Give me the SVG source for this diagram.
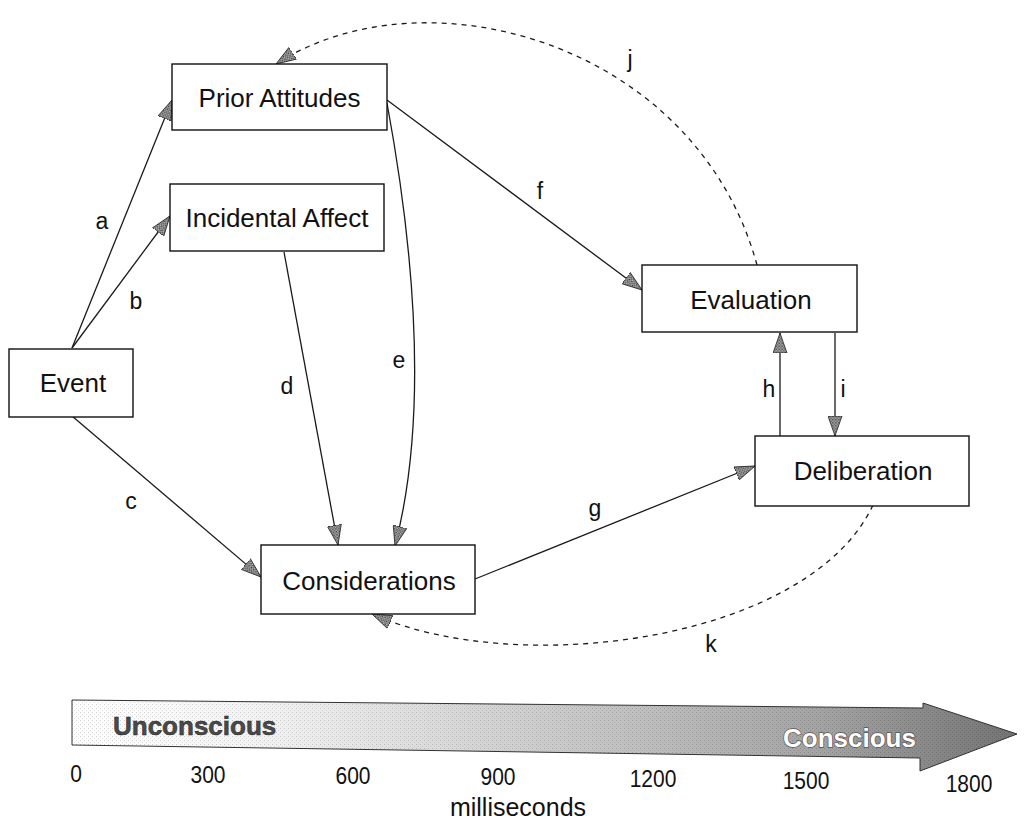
<svg xmlns="http://www.w3.org/2000/svg" width="1027" height="824" viewBox="0 0 1027 824">
<style>
.box{fill:#fff;stroke:#111;stroke-width:1.4}
.nt{font-family:"Liberation Sans",Arial,sans-serif;font-size:26px;fill:#111;text-anchor:middle}
.lb{font-family:"Liberation Sans",Arial,sans-serif;font-size:23px;fill:#111;text-anchor:middle}
.ln{fill:none;stroke:#1a1a1a;stroke-width:1.3;marker-end:url(#ah)}
.ds{fill:none;stroke:#1a1a1a;stroke-width:1.3;stroke-dasharray:5 5;marker-end:url(#ah)}
.tk{font-family:"Liberation Sans",Arial,sans-serif;font-size:21px;fill:#111;text-anchor:middle}
</style>
<defs>
<pattern id="hatch" width="3" height="3" patternUnits="userSpaceOnUse">
<rect width="3" height="3" fill="#c0c0c0"/>
<rect width="1.5" height="1.5" fill="#333"/>
<rect x="1.5" y="1.5" width="1.5" height="1.5" fill="#555"/>
</pattern>
<marker id="ah" viewBox="0 0 21 15" refX="20" refY="7.5" markerWidth="21" markerHeight="15" markerUnits="userSpaceOnUse" orient="auto">
<path d="M0,0.5 L20,7.5 L0,14.5 Z" fill="url(#hatch)" stroke="#222" stroke-width="0.8"/>
</marker>
<linearGradient id="tg" gradientUnits="userSpaceOnUse" x1="72" y1="0" x2="1018" y2="0">
<stop offset="0" stop-color="#ffffff"/>
<stop offset="0.2" stop-color="#f3f3f3"/>
<stop offset="0.4" stop-color="#d9d9d9"/>
<stop offset="0.6" stop-color="#bfbfbf"/>
<stop offset="0.8" stop-color="#a2a2a2"/>
<stop offset="1" stop-color="#737373"/>
</linearGradient>
<pattern id="stip" width="4" height="4" patternUnits="userSpaceOnUse">
<rect x="0" y="0" width="1" height="1" fill="#000" opacity="0.35"/>
<rect x="2" y="2" width="1" height="1" fill="#000" opacity="0.25"/>
</pattern>
</defs>
<rect width="1027" height="824" fill="#fff"/>

<g id="connectors">
<path id="a" class="ln" d="M72,348 L172,100"/>
<path id="b" class="ln" d="M72,348 L170,216"/>
<path id="c" class="ln" d="M72,416 L261,577"/>
<path id="d" class="ln" d="M284,252 L338,545"/>
<path id="e" class="ln" d="M387,103 Q438,380 395,546"/>
<path id="f" class="ln" d="M387,100 L642,290"/>
<path id="g" class="ln" d="M475,579 L755,466"/>
<path id="h" class="ln" d="M780,436 L780,333"/>
<path id="i" class="ln" d="M835,333 L835,436"/>
<path id="j" class="ds" d="M757,265 C697,44 427,-33 276,64"/>
<path id="k" class="ds" d="M873,505 C810,640 520,680 372,614"/>
</g>

<g id="labels">
<text class="lb" x="102" y="229">a</text>
<text class="lb" x="136" y="309">b</text>
<text class="lb" x="131" y="509">c</text>
<text class="lb" x="287" y="394">d</text>
<text class="lb" x="399" y="368">e</text>
<text class="lb" x="540" y="199">f</text>
<text class="lb" x="595" y="516">g</text>
<text class="lb" x="769" y="397">h</text>
<text class="lb" x="843" y="397">i</text>
<text class="lb" x="630" y="67">j</text>
<text class="lb" x="711" y="652">k</text>
</g>

<g id="node-prior-attitudes">
<rect class="box" x="172" y="64" width="215" height="66"/>
<text class="nt" x="279.5" y="107">Prior Attitudes</text>
</g>
<g id="node-incidental-affect">
<rect class="box" x="170" y="184" width="214" height="67"/>
<text class="nt" x="277" y="227">Incidental Affect</text>
</g>
<g id="node-event">
<rect class="box" x="9" y="349" width="124" height="68"/>
<text class="nt" x="73" y="392">Event</text>
</g>
<g id="node-evaluation">
<rect class="box" x="642" y="265" width="215" height="67"/>
<text class="nt" x="751" y="309">Evaluation</text>
</g>
<g id="node-deliberation">
<rect class="box" x="755" y="436" width="214" height="70"/>
<text class="nt" x="863" y="480">Deliberation</text>
</g>
<g id="node-considerations">
<rect class="box" x="261" y="545" width="214" height="69"/>
<text class="nt" x="369" y="590">Considerations</text>
</g>

<g id="timeline">
<polygon points="72,700 923,708 923,703 1017,734 920,771 920,758 72,745" fill="url(#tg)" stroke="#333" stroke-width="1"/>
<polygon points="72,700 923,708 923,703 1017,734 920,771 920,758 72,745" fill="url(#stip)" opacity="0.5"/>
<text x="113" y="735" font-family="'Liberation Sans',Arial,sans-serif" font-size="26" font-weight="bold" fill="#4a4a4a" stroke="#222" stroke-width="0.5">Unconscious</text>
<text x="783" y="747" font-family="'Liberation Sans',Arial,sans-serif" font-size="26" font-weight="bold" fill="#ffffff" stroke="#555" stroke-width="1.4" paint-order="stroke">Conscious</text>
<text class="tk" transform="translate(76,782) scale(1,1.15)">0</text>
<text class="tk" transform="translate(208,783) scale(1,1.15)">300</text>
<text class="tk" transform="translate(353,784) scale(1,1.15)">600</text>
<text class="tk" transform="translate(498,785) scale(1,1.15)">900</text>
<text class="tk" transform="translate(653,787) scale(1,1.15)">1200</text>
<text class="tk" transform="translate(806,789) scale(1,1.15)">1500</text>
<text class="tk" transform="translate(969,792) scale(1,1.15)">1800</text>
<text x="518" y="816" font-family="'Liberation Sans',Arial,sans-serif" font-size="25" fill="#111" text-anchor="middle">milliseconds</text>
</g>
</svg>
